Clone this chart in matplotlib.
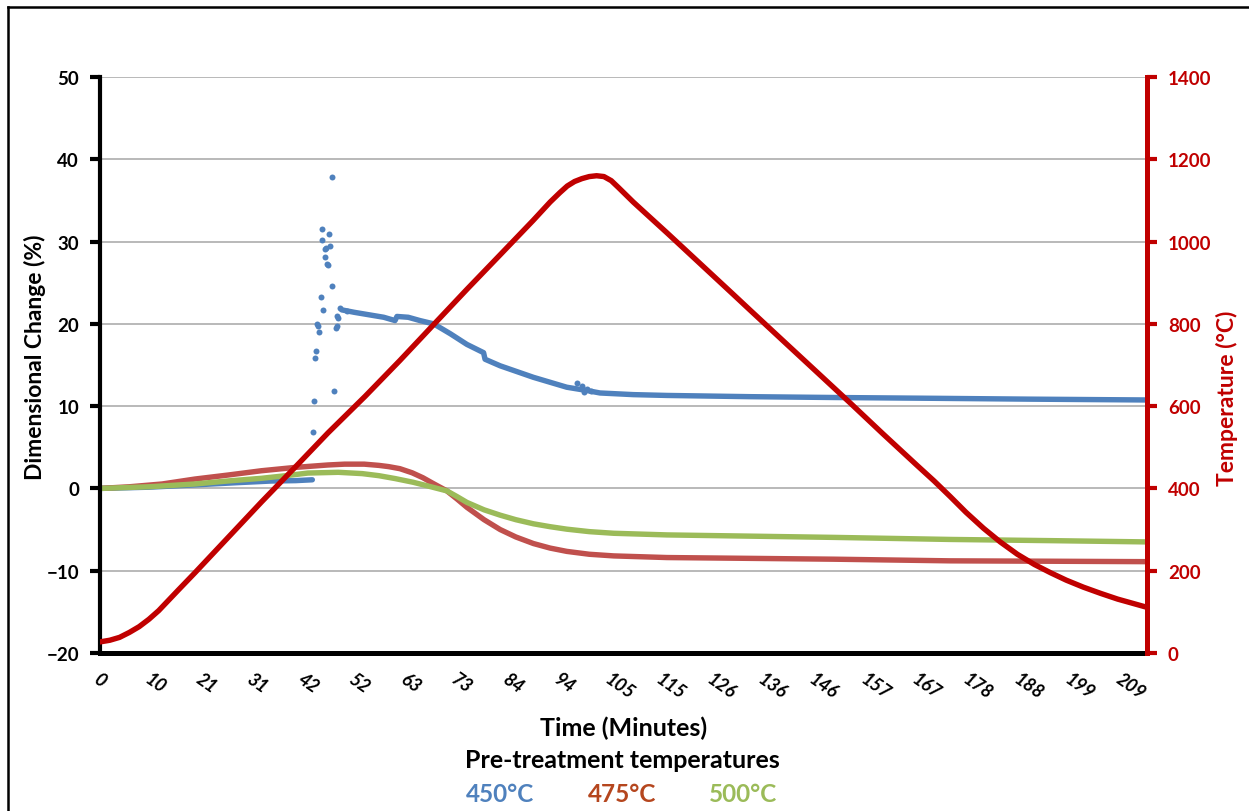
import numpy as np
import matplotlib.pyplot as plt
from matplotlib.lines import Line2D

plt.rcParams['font.family'] = ['Lato', 'DejaVu Sans']

# temperatura del horno (eje derecho)
time_temp = [0, 2, 4, 6, 8, 10, 12, 14, 16, 19.4, 26.2, 33, 40, 46.6, 54.2, 61.3, 68.1, 75,
             81.8, 88.5, 92, 94, 95.5, 97, 98.5, 100, 101.5, 103, 104.5, 106, 109, 116, 122.7,
             129.4, 133, 139.7, 146.6, 153.4, 160, 167, 170.5, 173.8, 177, 180.6, 184, 187.5,
             191, 194.3, 197.5, 201, 204.5, 208, 211, 213.7]
temp = [27, 31, 38, 50, 64, 82, 103, 128, 153, 195, 281, 367, 453, 535, 624, 711, 797, 884,
        968, 1051, 1096, 1119, 1135, 1146, 1153, 1158, 1160, 1158, 1148, 1131, 1096, 1020, 946,
        872, 832, 758, 682, 607, 533, 456, 418, 380, 342, 303, 270, 240,
        215, 195, 177, 160, 145, 131, 121, 112]

# 500 C
time_500 = [0, 10, 19.4, 26, 33, 38, 42.5, 48.7, 53.6, 57, 60.3, 64, 67, 70.9, 73, 75, 78.5,
            81.8, 85, 88.6, 92, 95.4, 100, 105, 115.9, 133, 150, 173.8, 195, 214]
dc_500 = [0, 0.2, 0.54, 0.9, 1.23, 1.55, 1.87, 1.96, 1.8, 1.55, 1.2, 0.75, 0.3, -0.3, -1.0,
          -1.7, -2.6, -3.25, -3.8, -4.3, -4.65, -4.95, -5.25, -5.45, -5.65, -5.8, -5.95,
          -6.2, -6.35, -6.5]

# 475 C
time_475 = [0, 6, 12.7, 19.4, 26.2, 33, 40, 46.6, 50, 54, 57, 59, 61.3, 63.8, 66, 68.1, 70.9,
            73, 75, 78.5, 81.8, 85, 88.6, 92, 95.4, 100, 105, 115.9, 133, 150, 173.8, 195, 214]
dc_475 = [0, 0.2, 0.54, 1.14, 1.63, 2.15, 2.56, 2.85, 2.95, 2.95, 2.8, 2.65, 2.4, 1.9, 1.3,
          0.6, -0.3, -1.3, -2.3, -3.8, -5.0, -5.9, -6.7, -7.25, -7.65, -8.0, -8.2, -8.4,
          -8.5, -8.6, -8.8, -8.85, -8.9]

# 450 C (curva continua, con corte en la zona de dispersion)
time_450 = [0, 10, 20, 28, 35, 40, 43.4, np.nan, 49.4, 52, 55, 58, 60.3, 60.7, 63, 65.4,
            68.2, 71.6, 75, 78.4, 78.7, 81.8, 85.2, 88.6, 92, 95.4, 99.5, 102.2, 109, 115.9,
            133, 150, 171, 190, 214]
dc_450 = [0, 0.15, 0.45, 0.7, 0.9, 0.95, 1.05, np.nan, 21.7, 21.4, 21.1, 20.8, 20.4, 20.9,
          20.8, 20.4, 20.0, 18.8, 17.5, 16.5, 15.7, 14.9, 14.2, 13.5, 12.9, 12.3, 11.9, 11.6,
          11.4, 11.3, 11.15, 11.05, 10.95, 10.85, 10.75]

# 450 C puntos sueltos
scat_t = [47.4, 45.4, 46.9, 45.3, 47.0, 46.0, 46.2, 45.9, 46.4, 46.7, 47.5, 45.1, 45.5, 44.4,
          44.6, 44.8, 44.2, 43.9, 47.8, 43.7, 43.6, 48.4, 48.2, 48.7, 48.5, 49.1, 50.4,
          97.5, 98.5, 99.5, 100.4, 99.0]
scat_dc = [37.8, 31.5, 30.9, 30.2, 29.5, 29.1, 29.2, 28.1, 27.3, 27.2, 24.6, 23.3, 21.7, 20.0,
           19.8, 19.0, 16.7, 15.9, 11.9, 10.6, 6.8, 19.8, 19.5, 20.7, 20.9, 21.9, 21.6,
           12.8, 12.4, 12.1, 11.9, 11.7]

xtick_labels = ["0", "10", "21", "31", "42", "52", "63", "73", "84", "94", "105", "115",
                "126", "136", "146", "157", "167", "178", "188", "199", "209"]

c_blue = "#4F81BD"
c_red = "#C0504D"
c_green = "#9BBB59"
c_temp = "#C00000"

fig = plt.figure(figsize=(12.49, 8.12), dpi=100)
ax = fig.add_axes([100 / 1249, 1 - 654 / 812, 1047 / 1249, 576 / 812])

ax.plot(time_450, dc_450, color=c_blue, lw=3.9, solid_capstyle="round")
ax.plot(scat_t, scat_dc, "o", color=c_blue, ms=4.3, mew=0)
ax.plot(time_475, dc_475, color=c_red, lw=3.9, solid_capstyle="round")
ax.plot(time_500, dc_500, color=c_green, lw=3.9, solid_capstyle="round")

ax.set_xlim(0, 214)
ax.set_ylim(-20, 50)
ax.set_yticks(range(-20, 51, 10))
ax.yaxis.grid(True, color="#B3B3B3", lw=1.3)
ax.set_axisbelow(True)
ax.set_xticks([i * 10.45 for i in range(21)])
ax.set_xticklabels(xtick_labels, rotation=-35, ha="left", va="top", rotation_mode="anchor",
                   fontweight="bold", style="italic", fontsize=13)
ax.tick_params(axis="x", length=0, pad=12)
ax.tick_params(axis="y", direction="out", length=7, width=3, labelsize=13.5, pad=8)
for lab in ax.get_yticklabels():
    lab.set_fontweight("bold")
ax.spines["top"].set_visible(False)
ax.spines["right"].set_visible(False)
ax.spines["left"].set_linewidth(3)
ax.spines["bottom"].set_linewidth(3.6)
ax.set_ylabel("Dimensional Change (%)", fontsize=16.5, fontweight="bold")
ax.yaxis.set_label_coords(-0.052, 0.515)

ax2 = ax.twinx()
ax2.plot(time_temp, temp, color=c_temp, lw=3.9, solid_capstyle="round", solid_joinstyle="round")
ax2.set_ylim(0, 1400)
ax2.set_yticks(range(0, 1401, 200))
ax2.tick_params(axis="y", direction="out", length=7, width=3, colors=c_temp, labelsize=13.5, pad=8)
for lab in ax2.get_yticklabels():
    lab.set_fontweight("bold")
for s in ["top", "left", "bottom"]:
    ax2.spines[s].set_visible(False)
ax2.spines["right"].set_color(c_temp)
ax2.spines["right"].set_linewidth(3.6)
ax2.set_ylabel("Temperature (°C)", color=c_temp, fontsize=16.5, fontweight="bold")
ax2.yaxis.set_label_coords(1.066, 0.444)
ax2.set_xlim(0, 214)

fig.text(624 / 1249, 1 - 728 / 812, "Time (Minutes)", ha="center", va="center",
         fontsize=18, fontweight="bold")
fig.text(622 / 1249, 1 - 761 / 812, "Pre-treatment temperatures", ha="center", va="center",
         fontsize=18, fontweight="bold")
fig.text(500 / 1249, 1 - 795 / 812, "450°C", ha="center", va="center", fontsize=17.5,
         fontweight="bold", color=c_blue)
fig.text(622 / 1249, 1 - 795 / 812, "475°C", ha="center", va="center", fontsize=17.5,
         fontweight="bold", color="#B5461E")
fig.text(743 / 1249, 1 - 795 / 812, "500°C", ha="center", va="center", fontsize=17.5,
         fontweight="bold", color=c_green)

# marco exterior (solo arriba e izquierda se ven)
fig.add_artist(Line2D([8 / 1249, 1], [1 - 8 / 812, 1 - 8 / 812], color="black", lw=1.8))
fig.add_artist(Line2D([8 / 1249, 8 / 1249], [0, 1 - 8 / 812], color="black", lw=1.8))

fig.savefig("out.png", dpi=100)
